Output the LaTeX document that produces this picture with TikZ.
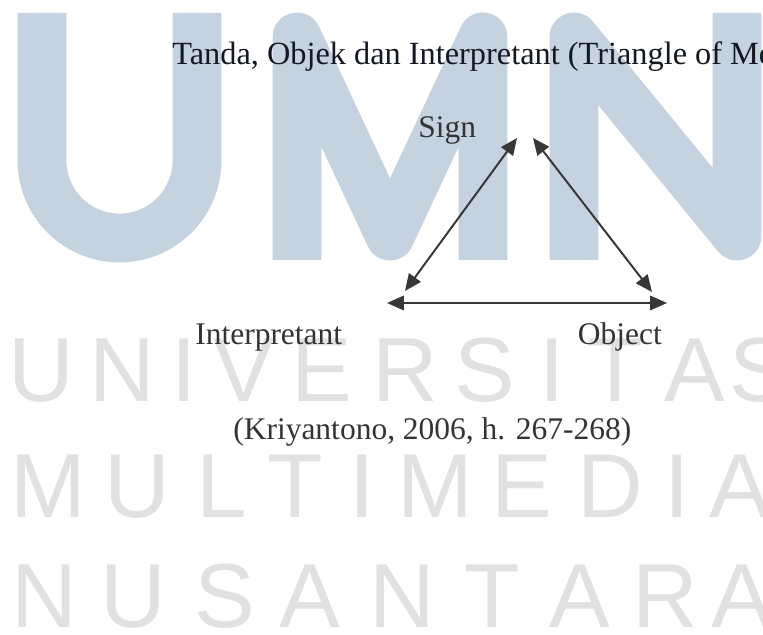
\documentclass[tikz,border=0pt]{standalone}
\usepackage{fontspec}
\setmainfont{Liberation Serif}
\newfontfamily\wmfont{Liberation Sans}
\usetikzlibrary{positioning,arrows.meta}

\definecolor{umnblue}{RGB}{197,210,224}
\definecolor{wmgrey}{RGB}{225,225,225}
\definecolor{titleink}{RGB}{20,24,36}
\definecolor{labelink}{RGB}{52,52,52}
\definecolor{lineink}{RGB}{55,55,55}

\tikzset{
  wmstroke/.style={draw=umnblue, line width=1.22cm, line join=round},
  wmletter/.style={font=\wmfont\fontsize{64.7}{64.7}\selectfont, text=wmgrey, inner sep=0pt, anchor=base},
  lbl/.style={font=\fontsize{22.4}{27}\selectfont, text=labelink, inner sep=0pt, anchor=base west},
  twoway/.style={<->, >={Triangle[length=0.42cm,width=0.36cm]}, draw=lineink, line width=1.4pt}
}

\begin{document}
\begin{tikzpicture}[x=0.025cm, y=-0.025cm]
\useasboundingbox (0,0) rectangle (763,635);
\fill[white] (0,0) rectangle (763,635);
\clip (0,0) rectangle (763,635);

% watermark
\draw[wmstroke] (42,13) -- (42,160.5) arc (180:0:77.5) -- (197,13);
\draw[wmstroke] (297,260) -- (297,37) -- (390,236) -- (483,37) -- (483,260);
\draw[wmstroke] (574,260) -- (574,37) -- (737,236) -- (737,13);

\foreach \ch/\cx [count=\i] in {U/41,N/122,I/184,V/244,E/322,R/405,S/485,I/552,T/615,A/695,S/760}
  \node[wmletter] (univ\i) at (\cx,402) {\ch};
\foreach \ch/\cx [count=\i] in {M/48,U/137,L/222,T/295,I/362,M/435,E/522,D/610,I/677,A/740}
  \node[wmletter] (multi\i) at (\cx,517) {\ch};
\foreach \ch/\cx [count=\i] in {N/44,U/133,S/225,A/310,N/402,T/492,A/580,R/665,A/742}
  \node[wmletter] (nusa\i) at (\cx,627) {\ch};

% triangle
\node[lbl, text=titleink, font=\fontsize{23}{27}\selectfont] (title) at (172,65) {Tanda, Objek dan Interpretant (Triangle of Meaning)};
\node[lbl] (sign) at (418,138) {Sign};
\node[lbl] (interp) at (195,345) {Interpretant};
\node[lbl, base right=5.875cm of interp] (object) {Object};
\node[lbl] (cite) at (233,440) {(Kriyantono, 2006, h. 267-268)};

\coordinate (signL) at (517,138);
\coordinate (signR) at (533,138);
\coordinate (interpC) at (405,291);
\coordinate (objC) at (652,292);
\coordinate (baseL) at (387,303);
\coordinate (baseR) at (667,303);

\draw[twoway] (signL) -- (interpC);
\draw[twoway] (signR) -- (objC);
\draw[twoway] (baseL) -- (baseR);

\end{tikzpicture}
\end{document}
